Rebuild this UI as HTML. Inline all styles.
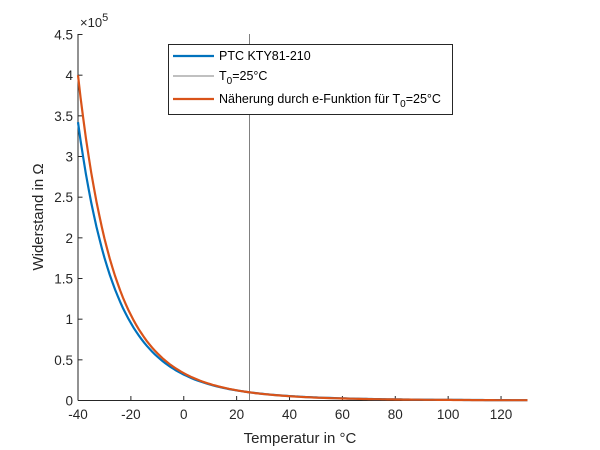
<!DOCTYPE html>
<html><head><meta charset="utf-8"><style>
body{margin:0;background:#fff;}
svg{display:block;font-family:"Liberation Sans",Arial,sans-serif;}
</style></head><body>
<svg id="s" width="600" height="450" viewBox="0 0 600 450" xmlns="http://www.w3.org/2000/svg">
<rect width="600" height="450" fill="#fff"/>
<g id="ax" stroke="#262626" stroke-width="1" fill="none">
<line x1="78" y1="34" x2="78" y2="400.5"/>
<line x1="78" y1="400.5" x2="527" y2="400.5"/>
</g>
<g id="lbl" font-size="13.5" fill="#262626"></g>
<line x1="249.5" y1="34" x2="249.5" y2="400" stroke="#808080" stroke-width="1"/>
<path id="b" fill="none" stroke="#0072BD" stroke-width="2.2"/>
<path id="o" fill="none" stroke="#D95319" stroke-width="2.2"/>
<text x="80" y="27" font-size="13" fill="#262626">×10<tspan dy="-6" font-size="11">5</tspan></text>
<text x="300" y="443" font-size="15" fill="#262626" text-anchor="middle">Temperatur in °C</text>
<text transform="translate(43,217) rotate(-90)" font-size="15" fill="#262626" text-anchor="middle">Widerstand in Ω</text>
<rect x="168.5" y="44.5" width="284" height="70" fill="#fff" stroke="#262626" stroke-width="1"/>
<line x1="173" y1="56" x2="214" y2="56" stroke="#0072BD" stroke-width="2.2"/>
<line x1="173" y1="76" x2="214" y2="76" stroke="#808080" stroke-width="1"/>
<line x1="173" y1="99" x2="214" y2="99" stroke="#D95319" stroke-width="2.2"/>
<g font-size="12.5" fill="#000">
<text x="219" y="60">PTC KTY81-210</text>
<text x="219" y="80">T<tspan dy="4" font-size="10">0</tspan><tspan dy="-4">=25°C</tspan></text>
<text x="219" y="103">Näherung durch e-Funktion für T<tspan dy="4" font-size="10">0</tspan><tspan dy="-4">=25°C</tspan></text>
</g>
</svg>
<script>
var X=function(t){return 78+(t+40)*2.644;};
var Y=function(v){return 400.5-v*81.33e-5;};
function p(B){var d="";for(var t=-40;t<=130;t+=1){var v=1e4*Math.exp(B*(1/(t+273.15)-1/298.15));d+=(t==-40?"M":"L")+X(t).toFixed(1)+","+Y(v).toFixed(1);}return d;}
document.getElementById("b").setAttribute("d",p(3778));
document.getElementById("o").setAttribute("d",p(3945));
var ax=document.getElementById("ax"),lb=document.getElementById("lbl"),h="",l="";
for(var t=-40;t<=120;t+=20){var x=X(t);h+='<line x1="'+x+'" y1="400.5" x2="'+x+'" y2="396"/>';l+='<text x="'+x+'" y="419" text-anchor="middle">'+t+'</text>';}
for(var i=0;i<=9;i++){var v=i*0.5,y=Y(v*1e5);h+='<line x1="78" y1="'+y+'" x2="82.5" y2="'+y+'"/>';l+='<text x="73" y="'+(y+5)+'" text-anchor="end">'+v+'</text>';}
ax.innerHTML+=h;lb.innerHTML=l;
</script>
</body></html>
